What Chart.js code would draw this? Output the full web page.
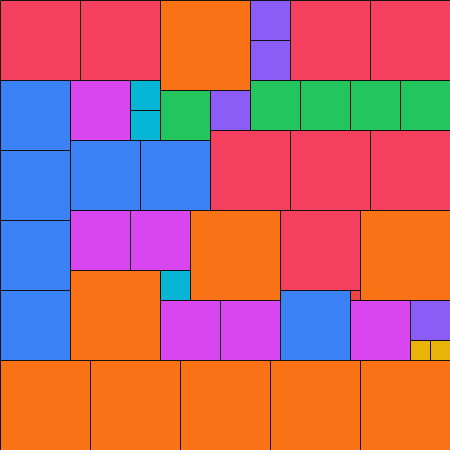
<!DOCTYPE html>
<html>
<head>
  <title>Square packing</title>
  <script src="https://cdn.jsdelivr.net/npm/chart.js"></script>
  <style>
    html, body { margin: 0; padding: 0; background: #ffffff; }
    canvas { display: block; }
  </style>
</head>
<body>
<canvas id="packChart" width="450" height="450"></canvas>
<script>
// each cell: left, top, side (in chart units, 0..450)
const cellX = [
  0, 80, 160, 250, 250, 290, 370,
  0, 70, 130, 130, 160, 210, 250, 300, 350, 400,
  0, 70, 140, 210, 290, 370,
  0, 70, 130, 190, 280, 360,
  0, 70, 160, 160, 220, 280, 350, 350, 410, 410, 430,
  0, 90, 180, 270, 360
];
const cellY = [
  0, 0, 0, 0, 40, 0, 0,
  80, 80, 80, 110, 90, 90, 80, 80, 80, 80,
  150, 140, 140, 130, 130, 130,
  220, 210, 210, 210, 210, 210,
  290, 270, 270, 300, 300, 290, 290, 300, 300, 340, 340,
  360, 360, 360, 360, 360
];
const cellSide = [
  80, 80, 90, 40, 40, 80, 80,
  70, 60, 30, 30, 50, 40, 50, 50, 50, 50,
  70, 70, 70, 80, 80, 80,
  70, 60, 60, 90, 80, 90,
  70, 90, 30, 60, 60, 70, 10, 60, 40, 20, 20,
  90, 90, 90, 90, 90
];

const sideColors = {
  10: '#ef4444',
  20: '#eab308',
  30: '#06b6d4',
  40: '#8b5cf6',
  50: '#22c55e',
  60: '#d946ef',
  70: '#3b82f6',
  80: '#f43f5e',
  90: '#f97316'
};

const datasets = cellSide.map((s, i) => {
  const x0 = cellX[i], y0 = cellY[i];
  return {
    label: 'cell ' + (i + 1),
    data: [
      { x: x0, y: y0 },
      { x: x0 + s, y: y0 },
      { x: x0 + s, y: y0 + s },
      { x: x0, y: y0 + s },
      { x: x0, y: y0 }
    ],
    showLine: true,
    fill: 'shape',
    backgroundColor: sideColors[s],
    borderColor: '#111111',
    borderWidth: 1,
    borderJoinStyle: 'miter',
    pointRadius: 0,
    pointHoverRadius: 0,
    tension: 0
  };
});

new Chart(document.getElementById('packChart'), {
  type: 'scatter',
  data: { datasets },
  options: {
    responsive: false,
    animation: false,
    devicePixelRatio: 1,
    layout: { padding: 0 },
    plugins: { legend: { display: false }, tooltip: { enabled: false } },
    scales: {
      x: { type: 'linear', min: -0.5, max: 449.5, display: false },
      y: { type: 'linear', min: -0.5, max: 449.5, reverse: true, display: false }
    }
  }
});
</script>
</body>
</html>
